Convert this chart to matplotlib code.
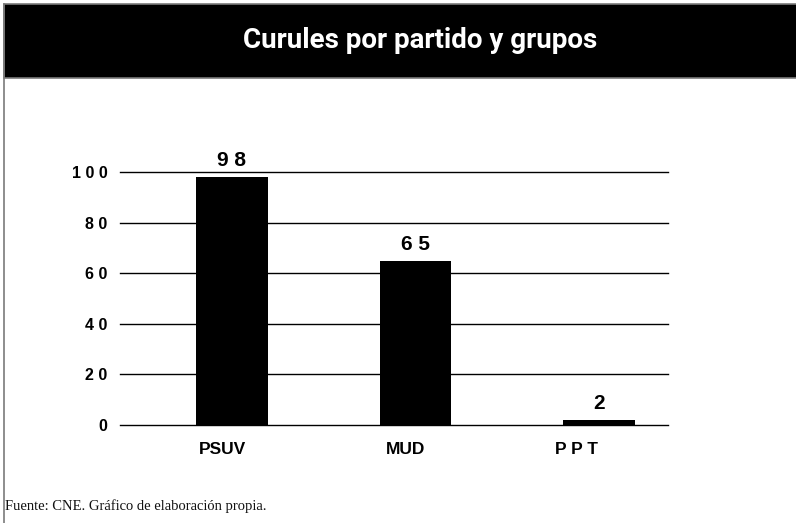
import matplotlib
matplotlib.use("Agg")
import matplotlib.pyplot as plt
from matplotlib.patches import Rectangle
from matplotlib.lines import Line2D
from matplotlib.transforms import ScaledTranslation

categories = ["PSUV", "MUD", "P P T"]
values = [98, 65, 2]
value_labels = ["9 8", "6 5", "2"]
yticks = [0, 20, 40, 60, 80, 100]
ytick_labels = ["0", "2 0", "4 0", "6 0", "8 0", "1 0 0"]
title = "Curules por partido y grupos"
source = "Fuente: CNE. Gráfico de elaboración propia."

W, H = 796, 523
fig = plt.figure(figsize=(W / 100, H / 100), dpi=100)
fig.patch.set_facecolor("white")

def fx(px):
    return px / W

def fy(py):
    return 1 - py / H

# header band
fig.patches.append(Rectangle((fx(3.5), fy(78)), 1 - fx(3.5) + 0.01, fy(3.5) - fy(78),
                             transform=fig.transFigure, facecolor="black",
                             edgecolor="#7a7a7a", linewidth=1.2, zorder=0))
# left border
fig.lines.append(Line2D([fx(3.5), fx(3.5)], [0, fy(3.5)], transform=fig.transFigure,
                        color="#7a7a7a", linewidth=1.2))

fig.text(fx(420), fy(41), title, ha="center", va="center", color="white",
         fontsize=20, fontweight="bold", family=["Roboto", "DejaVu Sans"])

ax = fig.add_axes([fx(120), fy(425), fx(668) - fx(120), fy(172) - fy(425)])
x = list(range(len(categories)))
ax.bar(x, values, width=0.39, color="black", zorder=3)
ax.set_xlim(-0.61, 2.376)
ax.set_ylim(0, 100)
ax.set_yticks(yticks)
ax.set_yticklabels(ytick_labels, fontsize=11.5, fontweight="bold", family="Liberation Sans")
ax.set_xticks(x)
ax.set_xticklabels(categories, fontsize=12.5, fontweight="bold", family="Liberation Sans")
ax.tick_params(axis="both", length=0)
ax.tick_params(axis="y", pad=9)
ax.tick_params(axis="x", pad=12)
label_shift_px = [-9, -10, -22]
for lbl, dx in zip(ax.get_xticklabels(), label_shift_px):
    lbl.set_transform(lbl.get_transform() + ScaledTranslation(dx / 100, 0, fig.dpi_scale_trans))
for s in ax.spines.values():
    s.set_visible(False)
for t in yticks:
    ax.axhline(t, color="black", linewidth=1.0, zorder=1, clip_on=False)
ax.set_facecolor("none")

for xi, v, lab in zip(x, values, value_labels):
    ax.annotate(lab, (xi, v), xytext=(0, 5), textcoords="offset points",
                ha="center", va="bottom", fontsize=15, fontweight="bold",
                family="Liberation Sans", annotation_clip=False)

fig.text(fx(5), fy(506), source, ha="left", va="center", fontsize=10.5,
         family="Liberation Serif", color="#111111")

fig.savefig("out.png", dpi=100)
